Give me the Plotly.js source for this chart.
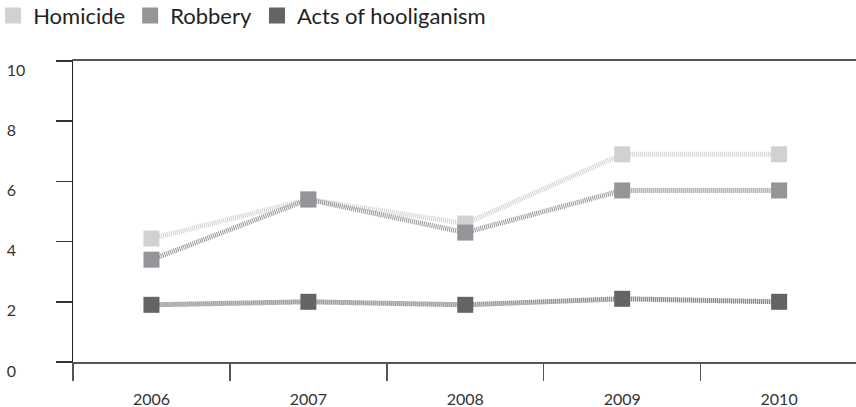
<!DOCTYPE html>
<html>
<head>
<meta charset="utf-8">
<script src="https://cdn.plot.ly/plotly-3.0.1.min.js"></script>
<style>html,body{margin:0;padding:0;background:#fff;}#chart{width:856px;height:407px;}</style>
</head>
<body>
<div id="chart"></div>
<script>
var years = ['2006', '2007', '2008', '2009', '2010'];
var homicide = [4.1, 5.4, 4.6, 6.9, 6.9];
var robbery = [3.4, 5.4, 4.3, 5.7, 5.7];
var hooliganism = [1.9, 2.0, 1.9, 2.1, 2.0];
var seriesNames = ['Homicide', 'Robbery', 'Acts of hooliganism'];
var seriesColors = ['#d0d1d3', '#939598', '#636466'];
var yTickVals = [0, 2, 4, 6, 8, 10];
var yTickText = ['0\u2007', '2\u2007', '4\u2007', '6\u2007', '8\u2007', '10'];

var seriesData = [homicide, robbery, hooliganism];
var traces = [];
seriesData.forEach(function (vals, i) {
  traces.push({
    type: 'scatter', mode: 'lines+markers', x: years, y: vals,
    name: seriesNames[i], showlegend: false, hoverinfo: 'none',
    line: {color: seriesColors[i], width: 5, dash: '1px,1px'},
    marker: {symbol: 'square', size: 16, color: seriesColors[i]}
  });
});
seriesData.forEach(function (vals, i) {
  traces.push({
    type: 'scatter', mode: 'markers', x: [null], y: [null],
    name: seriesNames[i], showlegend: true, hoverinfo: 'none',
    marker: {symbol: 'square', size: 16, color: seriesColors[i]}
  });
});

var layout = {
  width: 856, height: 407,
  margin: {l: 73, r: 0, t: 61, b: 45, autoexpand: false},
  paper_bgcolor: '#fff', plot_bgcolor: '#fff',
  font: {family: 'Lato, sans-serif', color: '#333'},
  showlegend: true,
  legend: {
    orientation: 'h', x: -0.102, xanchor: 'left', y: 1.22, yanchor: 'top',
    xref: 'paper', yref: 'paper',
    font: {size: 22, color: '#222'}, itemwidth: 30, tracegroupgap: 0,
    bgcolor: 'rgba(0,0,0,0)'
  },
  xaxis: {
    type: 'category', range: [-0.5, 4.49], tickson: 'boundaries',
    showline: true, linecolor: '#555', linewidth: 2, mirror: true,
    ticks: 'outside', ticklen: 17, tickcolor: '#555', tickwidth: 1.5,
    showgrid: false, zeroline: false, ticklabelstandoff: 22,
    tickfont: {size: 16, color: '#333'}, fixedrange: true, automargin: false
  },
  yaxis: {
    range: [0, 10], tickvals: yTickVals, ticktext: yTickText,
    showline: true, linecolor: '#222', linewidth: 1.5,
    ticks: 'outside', ticklen: 16, tickcolor: '#333', tickwidth: 1.5,
    showgrid: false, zeroline: false,
    ticklabelstandoff: 27, ticklabelshift: 9,
    tickfont: {size: 16, color: '#333'}, fixedrange: true, automargin: false
  }
};

Plotly.newPlot('chart', traces, layout, {displayModeBar: false, staticPlot: true});
</script>
</body>
</html>
